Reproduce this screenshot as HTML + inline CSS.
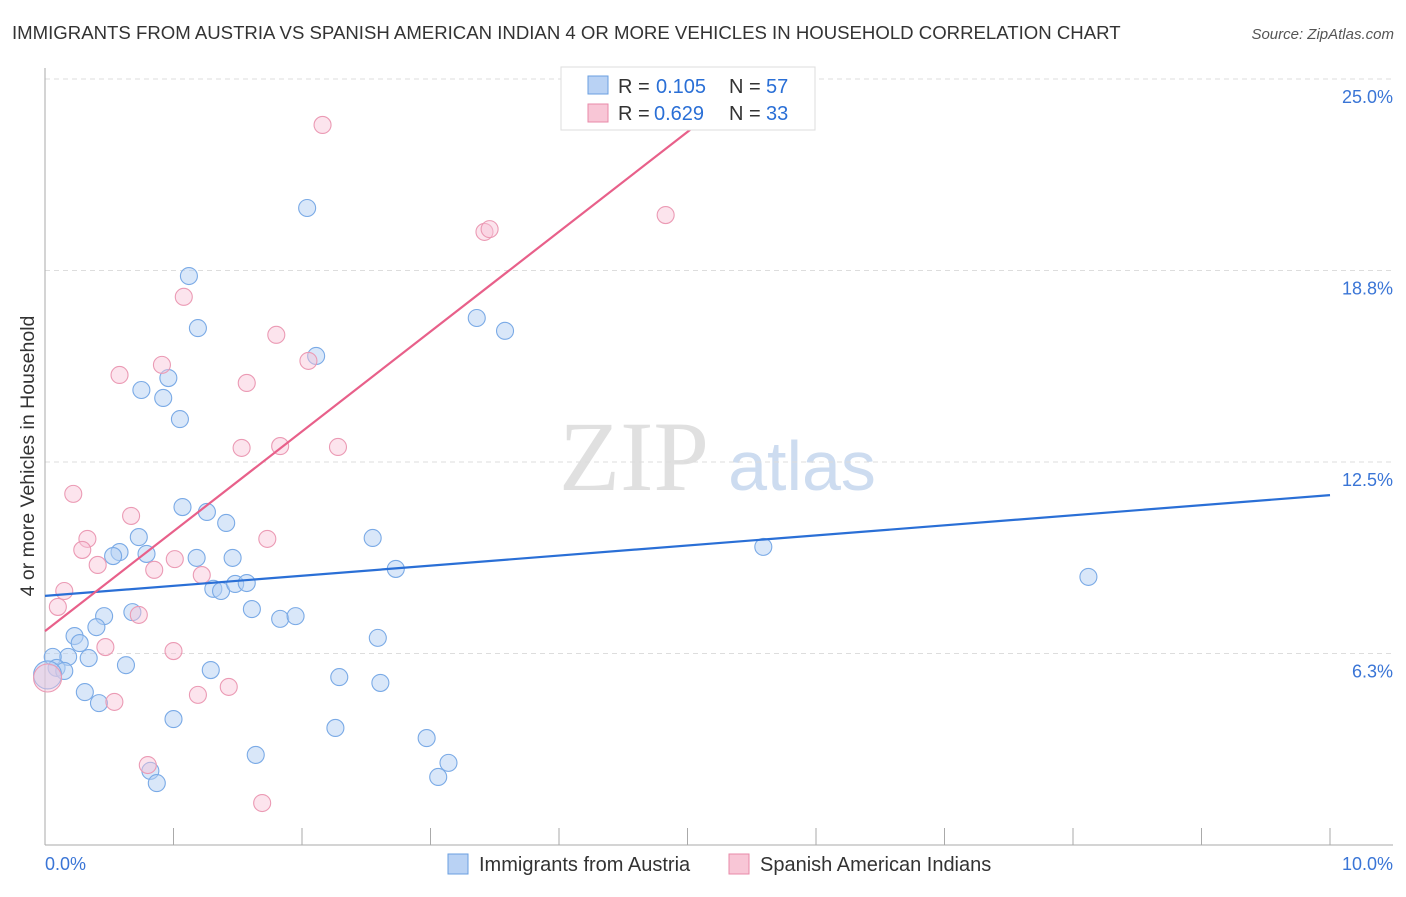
<!DOCTYPE html>
<html><head><meta charset="utf-8"><style>
body{margin:0;background:#fff;font-family:"Liberation Sans",sans-serif;}
</style></head><body>
<svg id="chart" width="1406" height="892" xmlns="http://www.w3.org/2000/svg" font-family="Liberation Sans, sans-serif">
<text x="12" y="39" font-size="18.6" fill="#333">IMMIGRANTS FROM AUSTRIA VS SPANISH AMERICAN INDIAN 4 OR MORE VEHICLES IN HOUSEHOLD CORRELATION CHART</text>
<text x="1394" y="39" font-size="15" fill="#555" font-style="italic" text-anchor="end">Source: ZipAtlas.com</text>
<text x="634" y="490" font-size="100" fill="#e0e0e0" style="font-family:'Liberation Serif',serif" text-anchor="middle">ZIP</text>
<text x="802" y="490" font-size="70" fill="#cddcf0" text-anchor="middle">atlas</text>
<g id="grid"></g>
<g id="axes"></g>
<g id="pts"></g>
<g id="lines"></g>
<text transform="translate(34,456) rotate(-90)" font-size="19.5" fill="#333" text-anchor="middle">4 or more Vehicles in Household</text>
<g>
<rect x="561" y="67" width="254" height="63" fill="#fff" stroke="#ddd"/>
<rect x="588" y="76" width="20" height="18" fill="#b9d2f4" stroke="#6a9fe0"/>
<text x="618" y="93" font-size="20" fill="#333">R = </text>
<text x="656" y="93" font-size="20" fill="#2a6fd6">0.105</text>
<text x="729" y="93" font-size="20" fill="#333">N = </text>
<text x="766" y="93" font-size="20" fill="#2a6fd6">57</text>
<rect x="588" y="104" width="20" height="18" fill="#f8c6d6" stroke="#e88aa8"/>
<text x="618" y="120" font-size="20" fill="#333">R = </text>
<text x="654" y="120" font-size="20" fill="#2a6fd6">0.629</text>
<text x="729" y="120" font-size="20" fill="#333">N = </text>
<text x="766" y="120" font-size="20" fill="#2a6fd6">33</text>
</g>
<g>
<rect x="448" y="854" width="20" height="20" fill="#b9d2f4" stroke="#6a9fe0"/>
<text x="479" y="871" font-size="20" fill="#333">Immigrants from Austria</text>
<rect x="729" y="854" width="20" height="20" fill="#f8c6d6" stroke="#e88aa8"/>
<text x="760" y="871" font-size="20" fill="#333">Spanish American Indians</text>
</g>
</svg>
<script>
const blueX=[2.04,1.12,1.19,2.11,3.36,3.58,0.75,0.96,0.92,1.05,1.07,1.26,1.41,0.73,0.58,0.53,0.79,1.18,1.46,2.55,2.73,5.59,8.12,1.31,1.37,1.48,1.57,1.61,1.83,1.95,0.46,0.68,0.40,0.23,0.27,2.59,0.18,0.34,0.06,0.63,1.29,0.09,0.15,2.29,2.61,0.31,0.42,1.00,2.26,2.97,1.64,3.14,0.82,3.06,0.87,0.02];
const blueY=[20.79,18.57,16.87,15.96,17.20,16.78,14.85,15.24,14.59,13.90,11.03,10.87,10.51,10.05,9.56,9.43,9.50,9.37,9.37,10.02,9.01,9.73,8.75,8.36,8.29,8.52,8.55,7.70,7.38,7.47,7.47,7.60,7.11,6.82,6.59,6.76,6.14,6.10,6.14,5.87,5.71,5.78,5.68,5.48,5.29,4.99,4.63,4.11,3.82,3.49,2.94,2.68,2.42,2.22,2.02,5.55];
const pinkX=[2.16,3.42,3.46,4.83,1.08,1.80,2.05,0.91,0.58,1.57,1.53,1.83,2.28,0.22,0.67,0.33,1.73,0.29,0.41,1.01,0.85,1.22,0.15,0.10,0.73,0.47,1.00,1.43,1.19,0.54,0.80,1.69,0.02];
const pinkY=[23.50,20.01,20.10,20.56,17.89,16.65,15.80,15.67,15.34,15.08,12.96,13.02,12.99,11.46,10.74,9.99,9.99,9.63,9.14,9.33,8.98,8.81,8.29,7.77,7.51,6.46,6.33,5.16,4.90,4.67,2.61,1.37,5.45];
const blueTrend=[8.13,11.42];
const pinkTrend=[6.98,23.34];
const pinkTrendEndX=5.02;
const yTicks=[25,18.75,12.5,6.25];
const yTickLabels=["25.0%","18.8%","12.5%","6.3%"];
const xTicks=[0,1,2,3,4,5,6,7,8,9,10];
const NS="http://www.w3.org/2000/svg";
const sx=v=>45+v*128.5, sy=v=>845-v*30.64;
function mk(tag,attrs,parent){const e=document.createElementNS(NS,tag);for(const k in attrs)e.setAttribute(k,attrs[k]);document.getElementById(parent).appendChild(e);return e;}
yTicks.forEach((t,i)=>{
  const g=mk('line',{x1:45,x2:1393,y1:sy(t),y2:sy(t),stroke:'#ddd','stroke-dasharray':'5,4'},'grid');
  
  
  const l=mk('text',{x:1393,y:sy(t)+24,'font-size':18,fill:'#3a75d6','text-anchor':'end'},'grid');
  l.textContent=yTickLabels[i];
  
  
});
let a=mk('line',{x1:45,x2:45,y1:68,y2:845,stroke:'#aaa'},'axes');


a=mk('line',{x1:45,x2:1393,y1:845,y2:845,stroke:'#aaa'},'axes');


xTicks.forEach(t=>{
  const k=mk('line',{x1:sx(t),x2:sx(t),y1:828,y2:845,stroke:'#aaa'},'axes');
  
  
});
let xl=mk('text',{x:45,y:870,'font-size':18,fill:'#3a75d6'},'axes');xl.textContent='0.0%';


xl=mk('text',{x:1393,y:870,'font-size':18,fill:'#3a75d6','text-anchor':'end'},'axes');xl.textContent='10.0%';


blueX.forEach((x,i)=>{
  const big=i===blueX.length-1;
  const c=mk('circle',{cx:sx(x),cy:sy(blueY[i]),r:big?14:8.5,fill:'rgba(180,208,244,0.5)',stroke:'#7aaae6','stroke-width':1.1},'pts');
  
  
});
pinkX.forEach((x,i)=>{
  const big=i===pinkX.length-1;
  const c=mk('circle',{cx:sx(x),cy:sy(pinkY[i]),r:big?14:8.5,fill:'rgba(248,196,214,0.45)',stroke:'#eb9ab4','stroke-width':1.1},'pts');
  
  
});
let ln=mk('line',{x1:sx(0),y1:sy(blueTrend[0]),x2:sx(10),y2:sy(blueTrend[1]),stroke:'#2a6fd6','stroke-width':2.2},'lines');


ln=mk('line',{x1:sx(0),y1:sy(pinkTrend[0]),x2:sx(pinkTrendEndX),y2:sy(pinkTrend[1]),stroke:'#e8608a','stroke-width':2.2},'lines');


</script>
</body></html>
